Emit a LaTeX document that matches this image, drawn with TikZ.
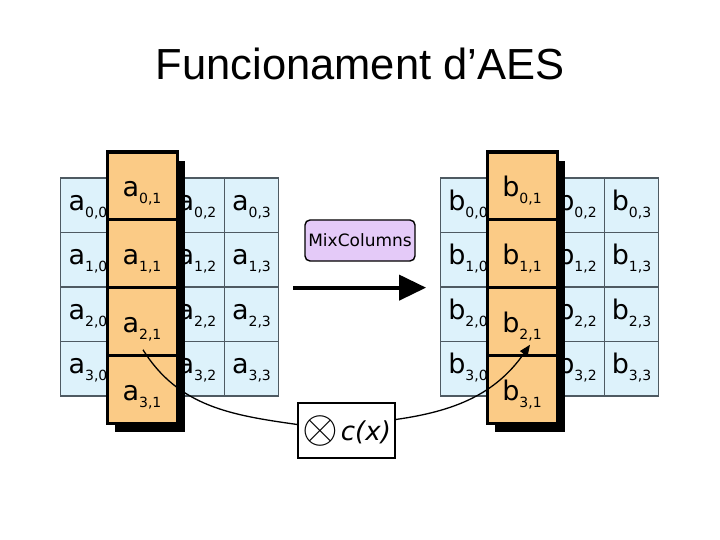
\documentclass[tikz,border=0pt]{standalone}
\usepackage{fontspec}
\setmainfont{DejaVu Sans}
\newfontfamily\titlefont{Liberation Sans}
\usepackage{graphicx}
\usepackage{tikz}
\usetikzlibrary{arrows.meta, positioning, shadows}

\definecolor{cellblue}{HTML}{DDF2FB}
\definecolor{cellorange}{HTML}{FBCB86}
\definecolor{mixpurple}{HTML}{E4CAF8}
\definecolor{gridline}{HTML}{4E5A62}

% state element with its index set low and small
\newcommand{\elem}[2]{#1\raisebox{-7pt}{\fontsize{14}{14}\selectfont #2}}

\begin{document}
\begin{tikzpicture}[
  x=1pt, y=1pt,
  >=Stealth,
  every node/.style={font=\fontsize{27}{27}\selectfont, inner sep=0pt},
  bluecell/.style  ={draw=gridline, line width=1.3pt, fill=cellblue,
                     minimum width=54.5pt, minimum height=54.5pt,
                     text height=17pt, text depth=7pt},
  colblock/.style  ={draw, line width=3pt, fill=cellorange,
                     minimum width=70pt, minimum height=271pt,
                     drop shadow={shadow xshift=8pt, shadow yshift=-9pt,
                                  fill=black, opacity=1}},
  orangecell/.style={draw, line width=3pt, fill=cellorange,
                     minimum width=70pt, minimum height=67.75pt,
                     text height=29pt, text depth=7pt},
  mixblock/.style  ={draw, line width=1.4pt, rounded corners=5pt, fill=mixpurple,
                     minimum width=110pt, minimum height=41pt,
                     font=\fontsize{17}{17}\selectfont},
  multblock/.style ={draw, line width=1.4pt, fill=white,
                     minimum width=97pt, minimum height=55pt},
  bigarr/.style={-{Triangle[length=27pt, width=25pt]}, line width=4pt},
  arr/.style={-{Triangle[length=11pt, width=9pt]}, line width=1.3pt},
  lin/.style={line width=1.3pt},
  titletext/.style={font=\titlefont\fontsize{43.5}{43.5}\selectfont},
]
\useasboundingbox (0,0) rectangle (720,-540);

%% ── Title ───────────────────────────────────────────────────────────────────
\node[titletext, anchor=base] (title) at (360,-80) {Funcionament d’AES};

%% ── Both states: a (input) and b (output) ──────────────────────────────────
\foreach \m/\dx in {a/0, b/380} {
  \foreach \row in {0,...,3} {
    \foreach \col in {0,2,3} {
      \node[bluecell] (\m\row\col) at ({88+\dx+54.5*\col}, {-205.25-54.5*\row})
        {\elem{\m}{\row,\col}};
    }
  }
  % the column being mixed, lifted out of the state
  \node[colblock] (\m col) at (142+\dx, -287.5) {};
  \foreach \row in {0,...,3} {
    \node[orangecell] (\m\row1) at (142+\dx, {-185.9-67.75*\row})
      {\elem{\m}{\row,1}};
  }
}

%% ── The transformation ──────────────────────────────────────────────────────
\node[mixblock] (mix) at (360,-240.5) {MixColumns};
\node[multblock] (mult) at (346.5,-430.5)
  {\raisebox{-2pt}{\scalebox{1.85}{$\otimes$}}\hspace{3pt}%
   {\fontsize{26}{26}\selectfont\itshape c(x)}};

%% ── Arrows ──────────────────────────────────────────────────────────────────
\draw[bigarr] ([xshift=14pt]a13.south east) -- ([xshift=-14pt]b10.south west);

\draw[lin] ([xshift=1pt, yshift=7pt]a21.south)
  to[out=-58, in=172] ([yshift=6pt]mult.west);
\draw[arr] ([yshift=11pt]mult.east)
  to[out=8, in=-125] ([xshift=8pt, yshift=12pt]b21.south);

\end{tikzpicture}
\end{document}
